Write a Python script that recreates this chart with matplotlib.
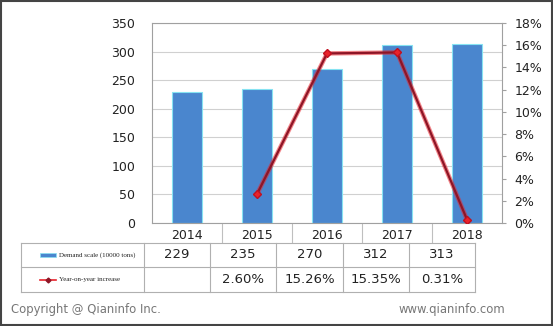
import matplotlib.pyplot as plt
import matplotlib.ticker as mticker
from matplotlib.patches import Rectangle

years = ["2014", "2015", "2016", "2017", "2018"]
demand = [229, 235, 270, 312, 313]
growth = [None, 2.60, 15.26, 15.35, 0.31]
demand_label = "Demand scale (10000 tons)"
growth_label = "Year-on-year increase"

W, H = 553, 326
BAR = "#4A86CE"
BAR_EDGE = "#86E3F2"
RED = "#E8232B"
DARK_RED = "#8E1526"
GRID = "#D0D0D0"
TXT = "#222222"

fig = plt.figure(figsize=(W / 100, H / 100), dpi=100)

# main plot area: x 152..502, y 23..223 (pixels)
ax = fig.add_axes([152 / W, 1 - 223 / H, 350 / W, 200 / H])
xs = list(range(len(years)))
ax.bar(xs, demand, width=0.42, color=BAR, edgecolor=BAR_EDGE, linewidth=0.8, zorder=2)
ax.set_xlim(-0.5, len(years) - 0.5)
ax.set_ylim(0, 350)
ax.set_yticks(range(0, 351, 50))
ax.yaxis.grid(True, color=GRID, linewidth=0.8)
ax.set_axisbelow(True)
ax.tick_params(axis="y", length=0, pad=12, labelsize=9, labelcolor=TXT)
ax.set_xticks(xs)
ax.set_xticklabels(years)
ax.tick_params(axis="x", length=0, pad=4, labelsize=9, labelcolor=TXT)
# vertical separators between the year labels
ax.set_xticks([i + 0.5 for i in xs[:-1]], minor=True)
ax.tick_params(axis="x", which="minor", length=14.5, width=0.8, color="#BFBFBF", direction="out")
for s in ax.spines.values():
    s.set_color("#A0A0A0")
    s.set_linewidth(0.8)

ax2 = ax.twinx()
gx = [x for x, g in zip(xs, growth) if g is not None]
gy = [g for g in growth if g is not None]
ax2.plot(gx, gy, color=RED, linewidth=3.2, alpha=0.55, zorder=3)
ax2.plot(gx, gy, color=DARK_RED, linewidth=1.6, marker="D", markersize=4,
         markerfacecolor=RED, markeredgecolor="#C01020", zorder=4)
ax2.set_ylim(0, 18)
ax2.set_yticks(range(0, 19, 2))
ax2.yaxis.set_major_formatter(mticker.FuncFormatter(lambda v, _: f"{v:.0f}%"))
ax2.tick_params(axis="y", length=3, color="#A0A0A0", pad=6, labelsize=9, labelcolor=TXT)
for s in ax2.spines.values():
    s.set_visible(False)

# data table under the chart, drawn in pixel coordinates
tab = fig.add_axes([0, 0, 1, 1])
tab.set_xlim(0, W)
tab.set_ylim(H, 0)
tab.axis("off")
tab.patch.set_alpha(0)

col_edges = [21, 144, 210, 276, 343, 409, 475]
row_edges = [243, 267, 292]
LINE = "#B0B0B0"
for y in row_edges:
    tab.plot([col_edges[0], col_edges[-1]], [y, y], color=LINE, lw=0.8)
for x in col_edges:
    tab.plot([x, x], [row_edges[0], row_edges[-1]], color=LINE, lw=0.8)

rows = [
    [str(v) for v in demand],
    ["" if g is None else f"{g:.2f}%" for g in growth],
]
for r, vals in enumerate(rows):
    yc = (row_edges[r] + row_edges[r + 1]) / 2
    for c, v in enumerate(vals):
        xc = (col_edges[c + 1] + col_edges[c + 2]) / 2
        tab.text(xc, yc, v, ha="center", va="center", fontsize=9.5, color=TXT)

# legend keys in the first column
y1 = (row_edges[0] + row_edges[1]) / 2
y2 = (row_edges[1] + row_edges[2]) / 2
tab.add_patch(Rectangle((40, y1 - 2.5), 16, 4.5, facecolor=BAR, edgecolor=BAR_EDGE, lw=0.5))
tab.text(59, y1, demand_label, ha="left", va="center", fontsize=5, family="Liberation Serif", color=TXT)
tab.plot([40, 56], [y2, y2], color=RED, lw=1.2)
tab.plot([48], [y2], marker="D", markersize=2.5, color=DARK_RED)
tab.text(59, y2, growth_label, ha="left", va="center", fontsize=5, family="Liberation Serif", color=TXT)

# footer
tab.text(11, 310, "Copyright @ Qianinfo Inc.", ha="left", va="center", fontsize=8.4, color="#777777")
tab.text(505, 310, "www.qianinfo.com", ha="right", va="center", fontsize=8.4, color="#777777")

# outer frame
tab.add_patch(Rectangle((0.8, 0.8), W - 1.6, H - 1.6, fill=False, edgecolor="#444444", lw=1.5))

fig.savefig("out.png", dpi=100)
